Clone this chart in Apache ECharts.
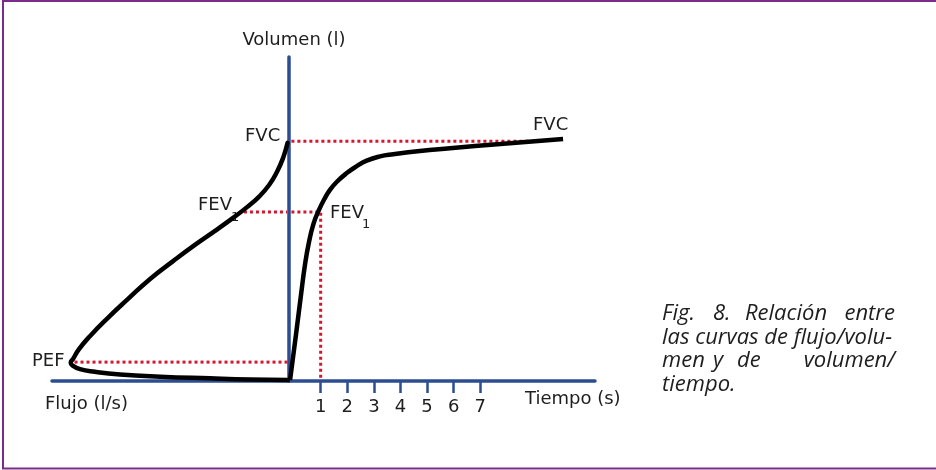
<!DOCTYPE html>
<html>
<head>
<meta charset="utf-8">
<script src="https://cdn.jsdelivr.net/npm/echarts@6/dist/echarts.min.js"></script>
<style>
html,body{margin:0;padding:0;background:#fff;}
#chart{width:936px;height:470px;}
</style>
</head>
<body>
<div id="chart"></div>
<script>
// ---- data (flow in l/s, volume in l, time in s) ----
const flowVolume = [
  [0.06, 4.41], [0.25, 4.13], [0.51, 3.87], [0.84, 3.63], [1.27, 3.41],
  [1.77, 3.22], [2.36, 3.02], [3.12, 2.78], [3.97, 2.52], [4.89, 2.22],
  [5.86, 1.89], [6.79, 1.52], [7.64, 1.17], [8.40, 0.83], [8.86, 0.59],
  [9.11, 0.41], [9.21, 0.34], [9.14, 0.29], [8.82, 0.22], [8.19, 0.17],
  [7.13, 0.12], [5.44, 0.08], [3.33, 0.05], [1.65, 0.03], [0.04, 0.02]
];
const volumeTime = [
  [-0.15, 0.02], [0.07, 0.85], [0.26, 1.59], [0.41, 2.15], [0.56, 2.57],
  [0.73, 2.91], [0.92, 3.15], [1.14, 3.37], [1.35, 3.54], [1.61, 3.69],
  [1.98, 3.85], [2.33, 3.97], [2.73, 4.08], [3.23, 4.16], [3.73, 4.20],
  [4.73, 4.26], [5.86, 4.31], [7.75, 4.39], [10.11, 4.48]
];
const timeTicks = [1, 2, 3, 4, 5, 6, 7];
const FVC = 4.44;          // l
const FEV1 = 3.13;         // l
const FEV1_TIME = 1;       // s
const FEV1_FLOW = 1.9;     // l/s (where FEV1 meets the flow curve)
const PEF = 9.05;          // l/s
const PEF_VOL = 0.35;      // l
const FVC_MEET_TIME = 8.79;

const BLUE = '#2c4d91';
const RED = '#d6152f';
const TXT = '#1e1e1e';
const FONT = '"DejaVu Sans", sans-serif';
const CAP = '"Open Sans", sans-serif';

const dotted = { color: RED, width: 3, type: [3, 3], cap: 'butt' };

const chart = echarts.init(document.getElementById('chart'), null, { renderer: 'canvas' });

function txt(text, x, y, opts) {
  return {
    type: 'text', x: x, y: y, silent: true,
    style: Object.assign({ text: text, fill: TXT, font: '18px ' + FONT, textAlign: 'left', textVerticalAlign: 'middle' }, opts || {})
  };
}
function cap(text, x, y, align) {
  return txt(text, x, y, { font: 'italic 22px ' + CAP, textAlign: align || 'left' });
}

chart.setOption({
  backgroundColor: '#fff',
  animation: false,
  grid: [
    { left: 52, right: 647, top: 57, bottom: 89 },
    { left: 289, right: 341, top: 57, bottom: 89 }
  ],
  xAxis: [
    {
      gridIndex: 0, type: 'value', inverse: true, min: 0, max: 10,
      axisLine: { show: true, onZero: false, lineStyle: { color: BLUE, width: 3.5 } },
      axisTick: { show: false }, axisLabel: { show: false }, splitLine: { show: false }
    },
    {
      gridIndex: 1, type: 'value', min: -0.19, max: 11.31,
      axisLine: { show: true, onZero: false, lineStyle: { color: BLUE, width: 3.5 } },
      axisTick: { show: true, customValues: timeTicks, length: 12, lineStyle: { color: BLUE, width: 2.5 } },
      axisLabel: { show: true, customValues: timeTicks, fontSize: 18, fontFamily: FONT, color: TXT, margin: 17 },
      splitLine: { show: false }
    }
  ],
  yAxis: [
    { gridIndex: 0, type: 'value', min: 0, max: 6, show: false },
    {
      gridIndex: 1, type: 'value', min: 0, max: 6,
      axisLine: { show: true, onZero: false, lineStyle: { color: BLUE, width: 3.5 } },
      axisTick: { show: false }, axisLabel: { show: false }, splitLine: { show: false }
    }
  ],
  series: [
    { type: 'line', xAxisIndex: 0, yAxisIndex: 0, data: [[PEF, PEF_VOL], [0.05, PEF_VOL]], showSymbol: false, lineStyle: dotted, z: 1, silent: true },
    { type: 'line', xAxisIndex: 0, yAxisIndex: 0, data: [[FEV1_FLOW, FEV1], [0.08, FEV1]], showSymbol: false, lineStyle: dotted, z: 1, silent: true },
    { type: 'line', xAxisIndex: 1, yAxisIndex: 1, data: [[-0.1, FEV1], [FEV1_TIME, FEV1], [FEV1_TIME, 0]], showSymbol: false, lineStyle: dotted, z: 1, silent: true },
    { type: 'line', xAxisIndex: 1, yAxisIndex: 1, data: [[-0.1, FVC], [FVC_MEET_TIME, FVC]], showSymbol: false, lineStyle: dotted, z: 1, silent: true },
    { type: 'line', xAxisIndex: 0, yAxisIndex: 0, data: flowVolume, smooth: 0.5, showSymbol: false, clip: false,
      lineStyle: { color: '#000', width: 4.5, join: 'round', cap: 'round' }, z: 3, silent: true },
    { type: 'line', xAxisIndex: 1, yAxisIndex: 1, data: volumeTime, smooth: 0.5, showSymbol: false, clip: false,
      lineStyle: { color: '#000', width: 4.5, join: 'round' }, z: 3, silent: true }
  ],
  graphic: [
    { type: 'rect', shape: { x: 3, y: 1, width: 1000, height: 467.5 }, style: { fill: null, stroke: '#7b2c89', lineWidth: 2 }, silent: true, z: 10 },
    txt('Volumen (l)', 294, 40, { textAlign: 'center' }),
    txt('FVC', 245, 136),
    txt('FEV', 198, 205),
    txt('1', 231, 218, { font: '13px ' + FONT }),
    txt('FEV', 330, 213),
    txt('1', 362, 225, { font: '13px ' + FONT }),
    txt('FVC', 533, 125),
    txt('PEF', 32, 361),
    txt('Flujo (l/s)', 45, 404),
    txt('Tiempo (s)', 525, 399),
    cap('Fig.', 662, 314), cap('8.', 713, 314), cap('Relación', 745, 314), cap('entre', 895, 314, 'right'),
    cap('las curvas de flujo/volu-', 662, 338),
    cap('men', 662, 361), cap('y', 713, 361), cap('de', 737, 361), cap('volumen/', 895, 361, 'right'),
    cap('tiempo.', 662, 385)
  ]
});
</script>
</body>
</html>
